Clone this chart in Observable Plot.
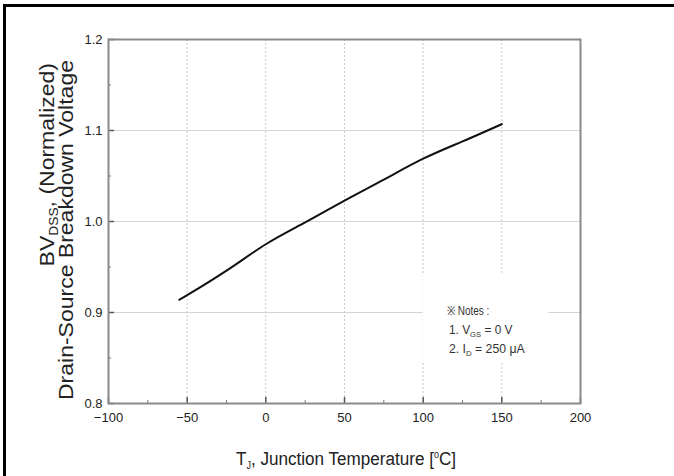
<!DOCTYPE html>
<html>
<head>
<meta charset="utf-8">
<script src="https://cdn.jsdelivr.net/npm/d3@7"></script>
<script src="https://cdn.jsdelivr.net/npm/@observablehq/plot@0.6"></script>
<style>
  html, body { margin: 0; padding: 0; background: #fff; }
  #wrap { position: relative; width: 674px; height: 476px; overflow: hidden; }
  #border { position: absolute; left: 3px; top: 4px; width: 700px; height: 500px;
            border-left: 3px solid #000; border-top: 3px solid #000; pointer-events: none; }
</style>
</head>
<body>
<div id="wrap"><div id="border"></div></div>
<script>
// Data
const temperature = [-55, -50, -25, 0, 25, 50, 75, 100, 125, 150];
const bvdss       = [0.914, 0.919, 0.946, 0.975, 0.999, 1.023, 1.046, 1.069, 1.088, 1.107];
const xTicks      = [-100, -50, 0, 50, 100, 150, 200];
const xMinorTicks = [-75, -25, 25, 75, 125, 175];
const yTicks      = [0.8, 0.9, 1.0, 1.1, 1.2];
const yMinorTicks = [0.85, 0.95, 1.05, 1.15];
const xGrid       = [-50, 0, 50, 100, 150];
const yGrid       = [0.9, 1.0, 1.1];

const data = temperature.map((t, i) => ({t, v: bvdss[i]}));

const W = 674, H = 476;
const mL = 108, mR = 94, mT = 39, mB = 73;
const frameH = H - mT - mB, frameW = W - mL - mR;
const sans = "'Liberation Sans', Arial, sans-serif";

const plot = Plot.plot({
  width: W, height: H,
  marginLeft: mL, marginRight: mR, marginTop: mT, marginBottom: mB,
  style: {fontFamily: sans, fontSize: "13px", color: "#222", background: "transparent"},
  x: {domain: [-100, 200], label: null},
  y: {domain: [0.8, 1.2], label: null},
  marks: [
    Plot.ruleY(yGrid, {stroke: "#d4d4d4", strokeWidth: 1}),
    Plot.ruleX(xGrid, {stroke: "#c8c8c8", strokeWidth: 1, strokeDasharray: "2,2"}),
    // inward ticks
    Plot.tickX(xTicks, {x: d => d, stroke: "#555", strokeWidth: 1.5, insetTop: frameH - 6}),
    Plot.tickX(xMinorTicks, {x: d => d, stroke: "#777", strokeWidth: 1, insetTop: frameH - 3}),
    Plot.tickY(yTicks, {y: d => d, stroke: "#555", strokeWidth: 1.5, insetRight: frameW - 6}),
    Plot.tickY(yMinorTicks, {y: d => d, stroke: "#777", strokeWidth: 1, insetRight: frameW - 3}),
    Plot.axisX(xTicks, {tickSize: 0, tickPadding: 9, fontSize: 13, label: null}),
    Plot.axisY(yTicks, {tickSize: 0, tickPadding: 6, tickFormat: d3.format(".1f"), fontSize: 13, label: null}),
    Plot.frame({stroke: "#8a8a8a", strokeWidth: 2}),
    Plot.line(data, {x: "t", y: "v", stroke: "#111", strokeWidth: 2, curve: "natural"})
  ]
});

const svg = d3.select(plot);
const xs = plot.scale("x"), ys = plot.scale("y");

// white background behind notes (interrupts grid lines, as in the reference)
svg.append("rect")
  .attr("x", xs.apply(100)).attr("y", ys.apply(0.943))
  .attr("width", xs.apply(180) - xs.apply(100))
  .attr("height", ys.apply(0.845) - ys.apply(0.943))
  .attr("fill", "#fff");

// notes
const notes = svg.append("g").attr("font-family", sans).attr("font-size", 12.5)
  .attr("fill", "#333").attr("text-anchor", "start");
notes.append("text").attr("transform", "translate(447,315) scale(0.8,1)").text("※ Notes :");
const n1 = notes.append("text").attr("transform", "translate(449,334) scale(0.95,1)");
n1.append("tspan").text("1. V");
n1.append("tspan").attr("font-size", 8).attr("dy", 3).text("GS");
n1.append("tspan").attr("dy", -3).text(" = 0 V");
const n2 = notes.append("text").attr("transform", "translate(449,353) scale(0.98,1)");
n2.append("tspan").text("2. I");
n2.append("tspan").attr("font-size", 8).attr("dy", 3).text("D");
n2.append("tspan").attr("dy", -3).text(" = 250 μA");

// y axis title (two lines), end-aligned near the top
const yl = svg.append("g").attr("font-family", sans).attr("font-size", 20).attr("fill", "#222")
  .attr("text-anchor", "end");
const l1 = yl.append("text").attr("transform", "translate(54,63) rotate(-90) scale(1.15,1)");
l1.append("tspan").text("BV");
l1.append("tspan").attr("font-size", 12).attr("dy", 4).text("DSS");
l1.append("tspan").attr("dy", -4).text(", (Normalized)");
yl.append("text").attr("transform", "translate(73,60) rotate(-90) scale(1.15,1)")
  .text("Drain-Source Breakdown Voltage");

// x axis title
const xl = svg.append("text")
  .attr("transform", `translate(${(mL + W - mR) / 2 + 2},465) scale(0.9,1)`)
  .attr("text-anchor", "middle").attr("font-family", sans).attr("font-size", 19).attr("fill", "#222");
xl.append("tspan").text("T");
xl.append("tspan").attr("font-size", 10).attr("dy", 4).text("J");
xl.append("tspan").attr("dy", -4).text(", Junction Temperature [");
xl.append("tspan").attr("font-size", 10).attr("dy", -7).text("o");
xl.append("tspan").attr("dy", 7).text("C]");

document.getElementById("wrap").insertBefore(plot, document.getElementById("border"));
plot.style.position = "absolute";
plot.style.left = "0";
plot.style.top = "0";
</script>
</body>
</html>
